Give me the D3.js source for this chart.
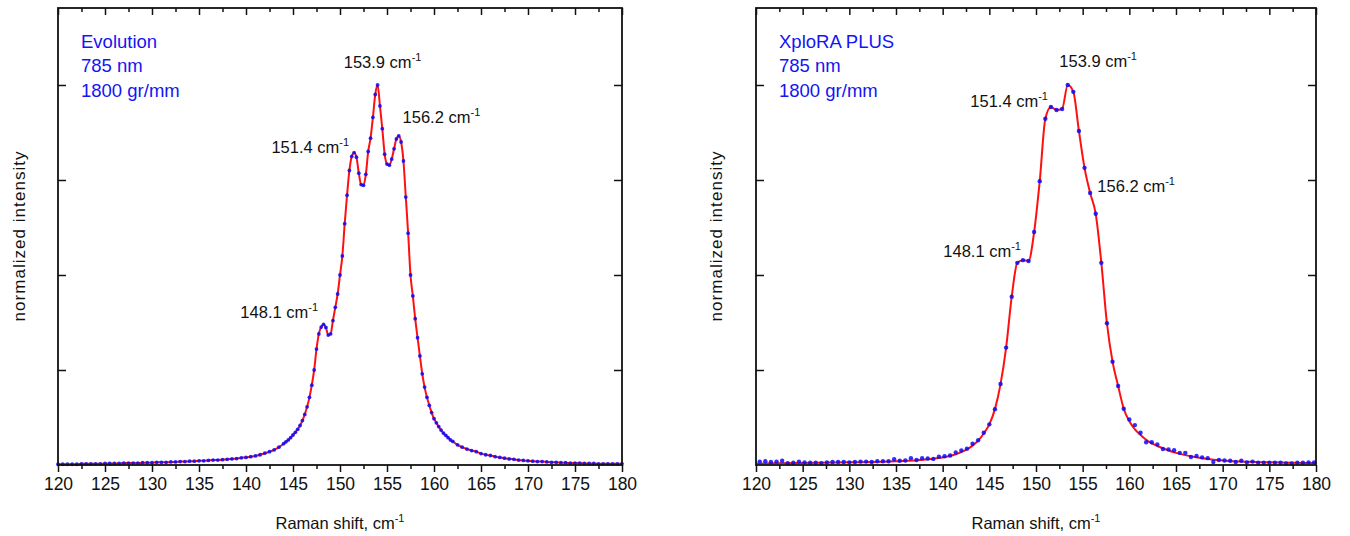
<!DOCTYPE html>
<html>
<head>
<meta charset="utf-8">
<script src="https://cdn.jsdelivr.net/npm/d3@7"></script>
<style>
  body { margin: 0; background: #fff; }
  svg { display: block; }
  text { font-family: "Liberation Sans", Arial, sans-serif; fill: #111; }
</style>
</head>
<body>
<svg id="chart" width="1350" height="536"></svg>
<script>
// Axis ticks
const shiftTicks = [120, 125, 130, 135, 140, 145, 150, 155, 160, 165, 170, 175, 180];
const shiftMinorTicks = [122.5, 127.5, 132.5, 137.5, 142.5, 147.5, 152.5, 157.5, 162.5, 167.5, 172.5, 177.5];
const intensityTicks = [0.25, 0.5, 0.75, 1];

// Evolution spectrum (dots and fit share the points)
const evoShift = [
  120, 120.5, 121, 121.5, 122, 122.5, 123, 123.5,
  124, 124.5, 125, 125.5, 126, 126.5, 127, 127.5,
  128, 128.5, 129, 129.5, 130, 130.5, 131, 131.5,
  132, 132.5, 133, 133.5, 134, 134.5, 135, 135.5,
  136, 136.5, 137, 137.5, 138, 138.5, 139, 139.5,
  140, 140.5, 141, 141.5, 142, 142.5, 143, 143.5,
  144, 144.25, 144.5, 144.75,
  145, 145.25, 145.5, 145.75,
  146, 146.25, 146.5, 146.75,
  147, 147.25, 147.5, 147.75,
  148, 148.25, 148.5, 148.75,
  149, 149.25, 149.5, 149.75,
  150, 150.25, 150.5, 150.75,
  151, 151.25, 151.5, 151.75,
  152, 152.25, 152.5, 152.75,
  153, 153.25, 153.5, 153.75,
  154, 154.25, 154.5, 154.75,
  155, 155.25, 155.5, 155.75,
  156, 156.25, 156.5, 156.75,
  157, 157.25, 157.5, 157.75,
  158, 158.25, 158.5, 158.75,
  159, 159.25, 159.5, 159.75,
  160, 160.25, 160.5, 160.75,
  161, 161.25, 161.5, 161.75,
  162,
  162.5, 163, 163.5, 164, 164.5, 165,
  165.5, 166, 166.5, 167, 167.5, 168,
  168.5, 169, 169.5, 170, 170.5, 171,
  171.5, 172, 172.5, 173, 173.5, 174,
  174.5, 175, 175.5, 176, 176.5, 177,
  177.5, 178, 178.5, 179, 179.5, 180
];
const evoIntensity = [
  0.002, 0.002, 0.002, 0.002, 0.002, 0.003, 0.003, 0.003,
  0.003, 0.003, 0.004, 0.004, 0.004, 0.004, 0.005, 0.005,
  0.005, 0.005, 0.006, 0.006, 0.006, 0.007, 0.007, 0.007,
  0.008, 0.008, 0.009, 0.009, 0.010, 0.010, 0.011, 0.011,
  0.012, 0.013, 0.013, 0.014, 0.015, 0.016, 0.017, 0.019,
  0.020, 0.022, 0.024, 0.027, 0.031, 0.035, 0.040, 0.047,
  0.056, 0.061, 0.066, 0.072,
  0.079, 0.086, 0.094, 0.104,
  0.117, 0.133, 0.153, 0.178,
  0.210, 0.250, 0.305, 0.345,
  0.363, 0.370, 0.362, 0.342,
  0.345, 0.380, 0.415, 0.450,
  0.500, 0.550, 0.635, 0.710,
  0.775, 0.812, 0.822, 0.810,
  0.768, 0.738, 0.736, 0.765,
  0.825, 0.860, 0.915, 0.975,
  1.000, 0.945, 0.885, 0.818,
  0.792, 0.789, 0.805, 0.832,
  0.858, 0.866, 0.850, 0.800,
  0.705, 0.610, 0.500, 0.445,
  0.385, 0.335, 0.287, 0.240,
  0.205, 0.178, 0.157, 0.138,
  0.122, 0.111, 0.101, 0.092,
  0.084, 0.078, 0.072, 0.066,
  0.062,
  0.053, 0.047, 0.042, 0.038, 0.035, 0.030,
  0.027, 0.025, 0.022, 0.020, 0.018, 0.016,
  0.015, 0.013, 0.012, 0.011, 0.010, 0.009,
  0.009, 0.008, 0.007, 0.007, 0.006, 0.006,
  0.005, 0.005, 0.005, 0.004, 0.004, 0.004,
  0.003, 0.003, 0.003, 0.003, 0.003, 0.003
];

// XploRA PLUS spectrum, measured points
const xploraShift = [
  120.4, 121.0, 121.6, 122.2, 122.8, 123.4, 124.0, 124.6, 125.2, 125.8,
  126.4, 127.0, 127.6, 128.2, 128.8, 129.4, 130.0, 130.6, 131.2, 131.8,
  132.4, 133.0, 133.6, 134.2, 134.8, 135.4, 136.0, 136.6, 137.2, 137.8,
  138.4, 139.0, 139.6, 140.2, 140.8, 141.4, 142.0, 142.6, 143.2, 143.8,
  144.4, 145.0, 145.6, 146.2, 146.8, 147.4, 148.0, 148.6, 149.2, 149.8,
  150.4, 151.0, 151.6, 152.2, 152.8, 153.4, 154.0, 154.6, 155.2, 155.8,
  156.4, 157.0, 157.6, 158.2, 158.8, 159.4, 160.0, 160.6, 161.2, 161.8,
  162.4, 163.0, 163.6, 164.2, 164.8, 165.4, 166.0, 166.6, 167.2, 167.8,
  168.4, 169.0, 169.6, 170.2, 170.8, 171.4, 172.0, 172.6, 173.2, 173.8,
  174.4, 175.0, 175.6, 176.2, 176.8, 177.4, 178.0, 178.6, 179.2, 179.8
];
const xploraIntensity = [
  0.009, 0.010, 0.008, 0.009, 0.011, 0.005, 0.006, 0.009, 0.007, 0.006,
  0.006, 0.005, 0.007, 0.008, 0.008, 0.008, 0.007, 0.008, 0.009, 0.009,
  0.008, 0.010, 0.010, 0.010, 0.015, 0.011, 0.012, 0.018, 0.013, 0.018,
  0.017, 0.016, 0.022, 0.023, 0.025, 0.033, 0.038, 0.043, 0.056, 0.065,
  0.085, 0.107, 0.147, 0.213, 0.309, 0.443, 0.532, 0.539, 0.537, 0.613,
  0.747, 0.911, 0.942, 0.934, 0.937, 1.000, 0.982, 0.879, 0.782, 0.716,
  0.661, 0.532, 0.373, 0.272, 0.208, 0.148, 0.120, 0.105, 0.085, 0.060,
  0.060, 0.054, 0.042, 0.041, 0.039, 0.032, 0.032, 0.021, 0.024, 0.020,
  0.018, 0.008, 0.013, 0.012, 0.011, 0.008, 0.011, 0.007, 0.009, 0.006,
  0.006, 0.006, 0.006, 0.006, 0.004, 0.004, 0.006, 0.006, 0.007, 0.007
];

// XploRA PLUS fit curve (red)
const xploraFitShift = [
  120, 125, 130, 135, 138, 140.2, 141.4,
  142.0, 142.6, 143.2, 143.8, 144.4, 145.0, 145.6, 146.2, 146.8, 147.4, 148.0,
  148.6, 149.2, 149.8, 150.4, 151.0, 151.6, 152.2, 152.8, 153.4, 154.0, 154.6,
  155.2, 155.8, 156.4, 157.0, 157.6, 158.2, 158.8, 159.4, 160.0, 160.6, 161.2,
  162, 163, 164, 165, 166, 167, 168, 169, 170, 172, 175, 180
];
const xploraFitIntensity = [
  0.004, 0.005, 0.007, 0.010, 0.014, 0.021, 0.028,
  0.034, 0.041, 0.051, 0.064, 0.083, 0.107, 0.147, 0.213, 0.309, 0.443, 0.532,
  0.539, 0.537, 0.613, 0.747, 0.911, 0.942, 0.934, 0.937, 1.000, 0.982, 0.879,
  0.782, 0.716, 0.661, 0.532, 0.373, 0.272, 0.208, 0.148, 0.115, 0.094, 0.079,
  0.063, 0.050, 0.040, 0.032, 0.026, 0.021, 0.017, 0.014, 0.012, 0.009, 0.007, 0.005
];

const peakLabels = ["148.1", "151.4", "153.9", "156.2"];
const evoInfo = ["Evolution", "785 nm", "1800 gr/mm"];
const xploraInfo = ["XploRA PLUS", "785 nm", "1800 gr/mm"];

const svg = d3.select("#chart");
const plotTop = 8, plotBottom = 465;

function drawPanel(p) {
    const x = d3.scaleLinear().domain([120, 180]).range([p.left, p.right]);
    const y = d3.scaleLinear().domain([0, 1.2026]).range([plotBottom, plotTop]);
    const g = svg.append("g");

    // Fit line, then measured points on top
    const line = d3.line().x(d => x(d[0])).y(d => y(d[1])).curve(d3.curveMonotoneX);
    g.append("path").datum(d3.zip(p.fitShift, p.fitIntensity))
        .attr("d", line).attr("fill", "none")
        .attr("stroke", "#ff1010").attr("stroke-width", 2);
    g.selectAll("circle").data(d3.zip(p.shift, p.intensity)).join("circle")
        .attr("cx", d => x(d[0])).attr("cy", d => y(d[1]))
        .attr("r", p.dot).attr("fill", "#0a0aff").attr("fill-opacity", 0.85);

    // Bottom axis: outward ticks with labels
    const ax = g.append("g").attr("transform", "translate(0," + plotBottom + ")");
    ax.call(d3.axisBottom(x).tickValues(shiftTicks).tickSize(7).tickPadding(6)
        .tickFormat(d3.format("d")));
    ax.selectAll("text").attr("font-size", 17.5).attr("fill", "#111")
        .attr("font-family", "Liberation Sans, Arial, sans-serif");
    g.append("g").attr("transform", "translate(0," + plotBottom + ")")
        .call(d3.axisBottom(x).tickValues(shiftMinorTicks).tickSize(4).tickFormat(""));

    // Top axis: inward ticks
    g.append("g").attr("transform", "translate(0," + plotTop + ")")
        .call(d3.axisTop(x).tickValues(shiftTicks).tickSize(-7).tickFormat(""));
    g.append("g").attr("transform", "translate(0," + plotTop + ")")
        .call(d3.axisTop(x).tickValues(shiftMinorTicks).tickSize(-4).tickFormat(""));

    // Left and right axes: inward ticks, no labels
    g.append("g").attr("transform", "translate(" + p.left + ",0)")
        .call(d3.axisLeft(y).tickValues(intensityTicks).tickSize(-8).tickFormat(""));
    g.append("g").attr("transform", "translate(" + p.right + ",0)")
        .call(d3.axisRight(y).tickValues(intensityTicks).tickSize(-8).tickFormat(""));

    g.selectAll(".domain").remove();
    g.selectAll(".tick line").attr("stroke", "#111").attr("stroke-width", 1.5);

    g.append("rect").attr("x", p.left).attr("y", plotTop)
        .attr("width", p.right - p.left).attr("height", plotBottom - plotTop)
        .attr("fill", "none").attr("stroke", "#111").attr("stroke-width", 1.8);

    // Axis titles
    const xt = g.append("text").attr("x", (p.left + p.right) / 2).attr("y", 529)
        .attr("text-anchor", "middle").attr("font-size", 16.5);
    xt.append("tspan").text("Raman shift, cm");
    xt.append("tspan").text("-1").attr("font-size", 11).attr("dy", -7);

    g.append("text")
        .attr("transform", "translate(" + p.yTitleX + "," + ((plotTop + plotBottom) / 2) + ") rotate(-90)")
        .attr("text-anchor", "middle").attr("font-size", 17)
        .attr("textLength", 170).attr("lengthAdjust", "spacing")
        .text("normalized intensity");

    // Instrument info
    g.selectAll(".info").data(p.info).join("text").attr("class", "info")
        .attr("x", p.left + 23).attr("y", (d, i) => 48 + i * 24.3)
        .attr("font-size", 18.5).style("fill", "#1414f5").text(d => d);

    // Peak annotations
    p.labelPos.forEach((pos, i) => {
        const t = g.append("text").attr("x", x(pos[0])).attr("y", y(pos[1]))
            .attr("font-size", 16.5);
        t.append("tspan").text(peakLabels[i] + " cm");
        t.append("tspan").text("-1").attr("font-size", 11).attr("dy", -7);
    });
}

drawPanel({
    left: 58, right: 622, yTitleX: 25, dot: 1.9,
    shift: evoShift, intensity: evoIntensity,
    fitShift: evoShift, fitIntensity: evoIntensity,
    info: evoInfo,
    labelPos: [[139.4, 0.387], [142.7, 0.822], [150.4, 1.046], [156.66, 0.901]]
});

drawPanel({
    left: 756, right: 1316, yTitleX: 722, dot: 2.2,
    shift: xploraShift, intensity: xploraIntensity,
    fitShift: xploraFitShift, fitIntensity: xploraFitIntensity,
    info: xploraInfo,
    labelPos: [[140.07, 0.547], [142.96, 0.942], [152.5, 1.047], [156.57, 0.718]]
});
</script>
</body>
</html>
